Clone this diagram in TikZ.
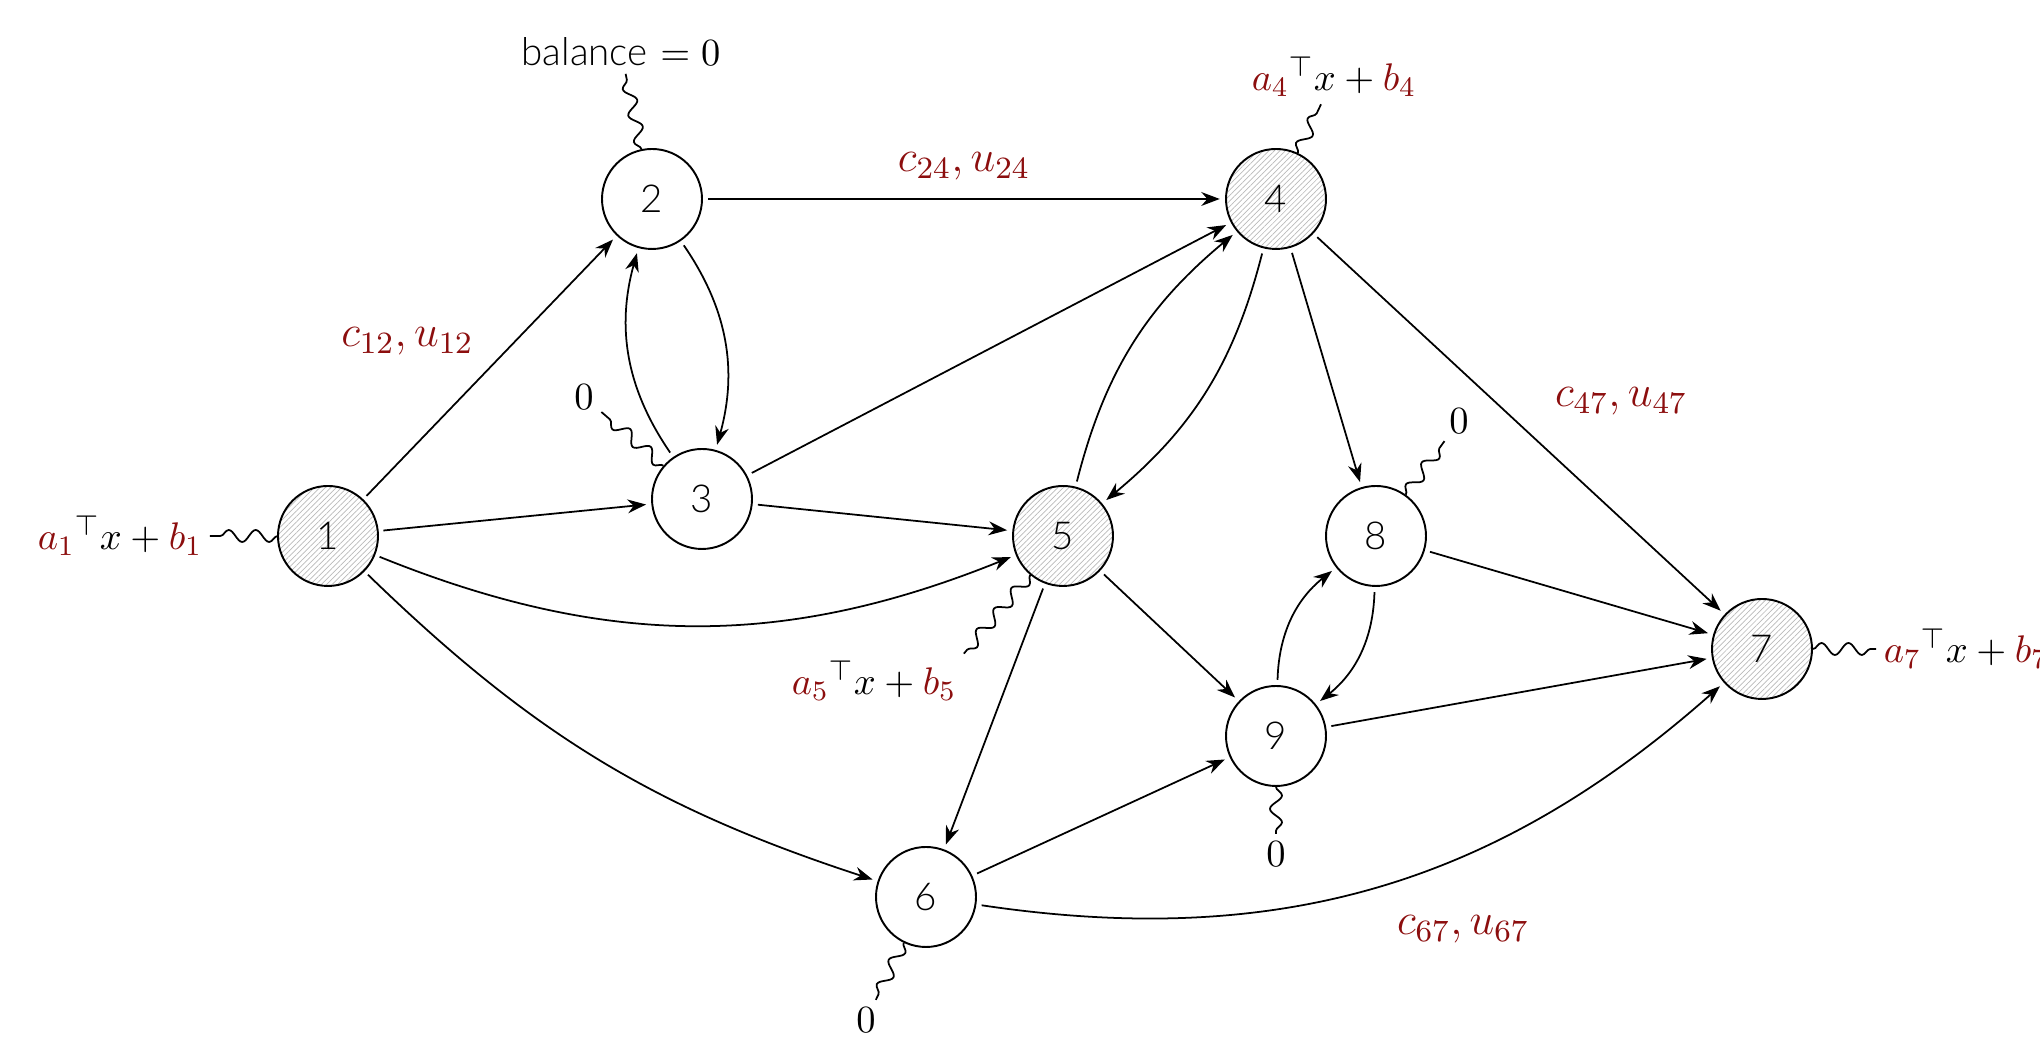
\RequirePackage{fix-cm}
\documentclass[11pt,tikz,border=0pt]{standalone}
\usepackage{fontspec}
\setsansfont{Lato Light}
\usetikzlibrary{arrows.meta,positioning,patterns.meta,decorations.pathmorphing}
\definecolor{coef}{RGB}{140,14,14}
\newcommand{\cf}[1]{\textcolor{coef}{#1}}

\begin{document}
\begin{tikzpicture}[
    vertex/.style={
      circle,
      draw,
      line width=0.55pt,
      minimum size=1cm,
      inner sep=0pt,
      on grid,
      font=\sffamily
    },
    terminal/.style={
      vertex,
      pattern={Lines[angle=45,distance=1.1pt,line width=0.2pt]},
      pattern color=gray!55
    },
    supply/.style={on grid, inner sep=2pt},
    cost/.style={text=coef, font=\fontsize{12.6pt}{15pt}\selectfont},
    arrow/.style={-{Stealth}, line width=0.5pt, shorten <=1.5pt, shorten >=1.5pt},
    wavy/.style={decorate, decoration={snake, amplitude=0.6mm, segment length=2.7mm}, line width=0.5pt}
  ]
    \useasboundingbox (0,0) rectangle (20.40,10.37);

    \node[terminal] (n1) at (3.28,5.01) {1};
    \node[vertex, above right=3.37cm and 3.24cm of n1] (n2) {2};
    \node[vertex, below right=3.00cm and 0.50cm of n2] (n3) {3};
    \node[terminal, right=6.24cm of n2] (n4) {4};
    \node[terminal, right=7.35cm of n1] (n5) {5};
    \node[vertex, right=3.13cm of n5] (n8) {8};
    \node[vertex, below left=2.00cm and 1.00cm of n8] (n9) {9};
    \node[vertex, below left=3.61cm and 1.37cm of n5] (n6) {6};
    \node[terminal, below right=1.13cm and 3.86cm of n8] (n7) {7};

    % supplies
    \node[supply, left=2.08cm of n1] (l1) {$\cf{a_1}^\top x + \cf{b_1}$};
    \node[supply, above left=1.47cm and 0.31cm of n2] (l2) {\textsf{balance} $= 0$};
    \node[supply, above left=1.02cm and 1.18cm of n3] (l3) {$0$};
    \node[supply, above right=1.22cm and 0.58cm of n4] (l4) {$\cf{a_4}^\top x + \cf{b_4}$};
    \node[supply, below left=1.45cm and 1.89cm of n5] (l5) {$\cf{a_5}^\top x + \cf{b_5}$};
    \node[supply, below left=1.23cm and 0.60cm of n6] (l6) {$0$};
    \node[supply, right=2.04cm of n7] (l7) {$\cf{a_7}^\top x + \cf{b_7}$};
    \node[supply, above right=1.15cm and 0.83cm of n8] (l8) {$0$};
    \node[supply, below=1.18cm of n9] (l9) {$0$};

    \draw[wavy] (n1) -- (l1);
    \draw[wavy] (n2) -- (l2);
    \draw[wavy] (n3) -- (l3);
    \draw[wavy] (n4) -- (l4);
    \draw[wavy] (n5) -- (l5.north east);
    \draw[wavy] (n6) -- (l6);
    \draw[wavy] (n7) -- (l7);
    \draw[wavy] (n8) -- (l8);
    \draw[wavy] (n9) -- (l9);

    % arcs
    \draw[arrow] (n1) -- node[cost, pos=0.6, left=0.28cm] {$c_{12}, u_{12}$} (n2);
    \draw[arrow] (n1) -- (n3);
    \draw[arrow] (n1) to[bend right=22] (n5);
    \draw[arrow] (n1) to[bend right=13] (n6);
    \draw[arrow] (n2) -- node[cost, above=0.05cm] {$c_{24}, u_{24}$} (n4);
    \draw[arrow] (n2) to[bend left=25] (n3);
    \draw[arrow] (n3) to[bend left=25] (n2);
    \draw[arrow] (n3) -- (n4);
    \draw[arrow] (n3) -- (n5);
    \draw[arrow] (n4) to[bend left=18] (n5);
    \draw[arrow] (n5) to[bend left=18] (n4);
    \draw[arrow] (n4) -- (n8);
    \draw[arrow] (n4) -- node[cost, pos=0.44, right=0.47cm] {$c_{47}, u_{47}$} (n7);
    \draw[arrow] (n5) -- (n9);
    \draw[arrow] (n5) -- (n6);
    \draw[arrow] (n6) -- (n9);
    \draw[arrow] (n6) to[bend right=25] node[cost, pos=0.62, below=0.47cm] {$c_{67}, u_{67}$} (n7);
    \draw[arrow] (n8) -- (n7);
    \draw[arrow] (n9) -- (n7);
    \draw[arrow] (n8) to[bend left=25] (n9);
    \draw[arrow] (n9) to[bend left=25] (n8);
  \end{tikzpicture}
\end{document}
